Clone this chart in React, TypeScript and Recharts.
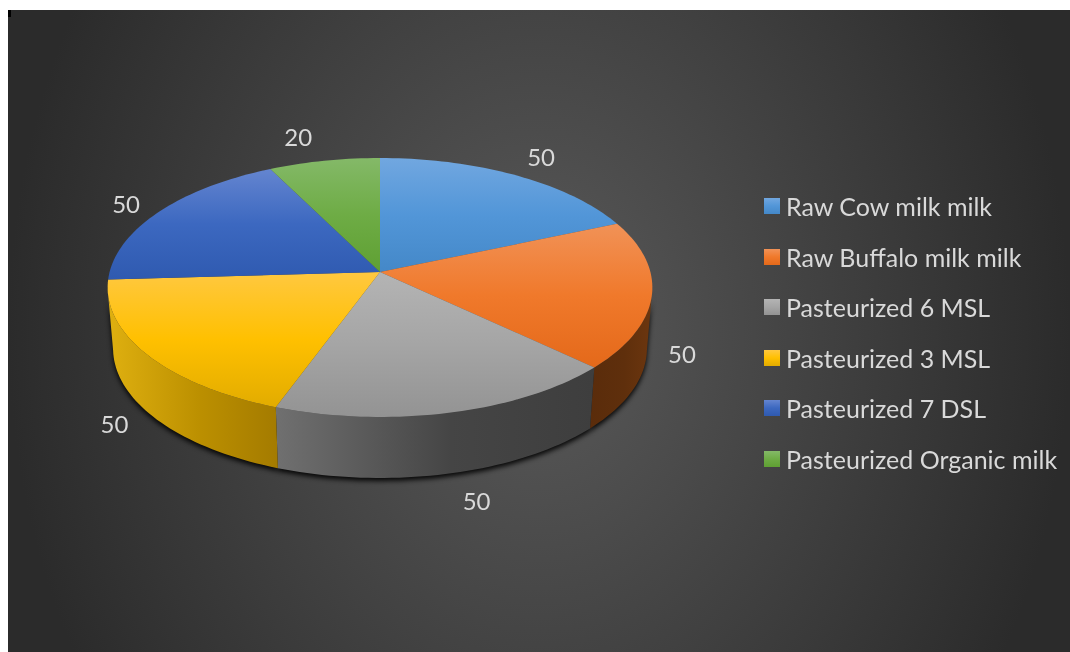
import React from 'react'
import { Legend, Pie, PieChart } from 'recharts'

const categories = [
  'Raw Cow milk milk',
  'Raw Buffalo milk milk',
  'Pasteurized 6 MSL',
  'Pasteurized 3 MSL',
  'Pasteurized 7 DSL',
  'Pasteurized Organic milk',
]
const values = [50, 50, 50, 50, 50, 20]

// light, base and dark stops of each slice's top face
const topColors = [
  ['#71a7e0', '#5296d8', '#4488c8'],
  ['#f19257', '#f0792b', '#e4691a'],
  ['#b4b4b4', '#a5a5a5', '#939393'],
  ['#ffc840', '#ffc000', '#e2ac00'],
  ['#6485d0', '#3c68c0', '#2f5ab0'],
  ['#84b968', '#6eac45', '#5fa033'],
]
// left to right stops of the outer wall
const wallColors = [
  ['#3a6a9c', '#2c5680', '#2c5680'],
  ['#5a2c0b', '#5f2f0c', '#6c360f'],
  ['#707070', '#454545', '#3e3e3e'],
  ['#dfb010', '#bb8f00', '#a47b00'],
  ['#2a4a88', '#2a4a88', '#2a4a88'],
  ['#4a7a2c', '#4a7a2c', '#4a7a2c'],
]
// where each value label sits relative to its slice's rim
const labelNudge = [
  [26, -19],
  [30, 59],
  [26, 88],
  [-32, 69],
  [-33, -8],
  [-26, -24],
]

const tableData = categories.map((name, i) => ({
  name,
  value: values[i],
  fill: `url(#top-${i})`,
}))

const WIDTH = 1062
const HEIGHT = 642
const CX = 372
const CY = 262
const RADIUS = 270.4
const TILT = 0.472
const PERSPECTIVE = 0.1197
const DEPTH = 61
const BOTTOM_SCALE = 0.98
const RAD = Math.PI / 180

// tilted disc: polar angle on the pie to a point on the page
function project(cx: number, cy: number, r: number, angle: number) {
  const u = Math.cos(angle * RAD)
  const v = -Math.sin(angle * RAD)
  const w = 1 - PERSPECTIVE * v
  return { x: cx + (r * u) / w, y: cy + (r * TILT * v) / w, v }
}

function rimPoints(props: any) {
  const { cx, cy, outerRadius, startAngle, endAngle } = props
  const steps = Math.max(2, Math.ceil(Math.abs(endAngle - startAngle) / 1.5))
  const points = []
  for (let i = 0; i <= steps; i++) {
    points.push(project(cx, cy, outerRadius, startAngle + ((endAngle - startAngle) * i) / steps))
  }
  return points
}

const toPath = (pts: { x: number; y: number }[]) =>
  pts.map((p, i) => `${i ? 'L' : 'M'}${p.x.toFixed(2)},${p.y.toFixed(2)}`).join(' ') + ' Z'

function wallPath(props: any) {
  // only the part of the rim that faces the viewer gets a wall
  const front = rimPoints(props).filter((p) => p.v >= PERSPECTIVE)
  if (front.length < 2) return null
  const lower = front
    .map((p) => ({ x: props.cx + (p.x - props.cx) * BOTTOM_SCALE, y: p.y + DEPTH }))
    .reverse()
  return toPath([...front, ...lower])
}

const TopFace = (props: any) => (
  <path d={toPath([{ x: props.cx, y: props.cy }, ...rimPoints(props)])} fill={props.fill} />
)

const WallFace = (props: any) => {
  const d = wallPath(props)
  return d ? <path d={d} fill={`url(#wall-${props.index})`} /> : null
}

const WallShadow = (props: any) => {
  const d = wallPath(props)
  return d ? (
    <path d={d} fill="#000" fillOpacity={0.9} transform="translate(0 3)" style={{ filter: 'blur(2.5px)' }} />
  ) : null
}

const valueLabel = (props: any) => {
  const { cx, cy, outerRadius, midAngle, index, value } = props
  const p = project(cx, cy, outerRadius, midAngle)
  return (
    <text
      x={p.x + labelNudge[index][0]}
      y={p.y + labelNudge[index][1]}
      fill="#d9d9d9"
      fontFamily="Lato"
      fontSize={24}
      textAnchor="middle"
      dominantBaseline="central"
    >
      {value}
    </text>
  )
}

const LegendList = () => (
  <div>
    {categories.map((name, i) => (
      <div key={name} style={{ display: 'flex', alignItems: 'center', height: 50.5 }}>
        <svg width={16} height={16} style={{ marginRight: 6 }}>
          <rect width={16} height={16} fill={`url(#top-${i})`} />
        </svg>
        <span style={{ color: '#d9d9d9', fontFamily: 'Lato', fontSize: 25, whiteSpace: 'nowrap' }}>{name}</span>
      </div>
    ))}
  </div>
)

export default function App() {
  const pieProps = {
    data: tableData,
    dataKey: 'value',
    nameKey: 'name',
    cx: CX,
    cy: CY,
    innerRadius: 0,
    outerRadius: RADIUS,
    startAngle: 90,
    endAngle: -270,
    stroke: 'none',
    isAnimationActive: false,
  }
  return (
    <div
      style={{
        position: 'fixed',
        left: 8,
        top: 10,
        width: WIDTH,
        height: HEIGHT,
        background: 'radial-gradient(ellipse 531px 670px at 50% 50%, #5a5a5a 0%, #2b2b2b 100%)',
      }}
    >
      <div style={{ position: 'absolute', left: 0, top: 0, width: 3, height: 7, background: '#000' }} />
      <PieChart width={WIDTH} height={HEIGHT} margin={{ top: 0, right: 0, bottom: 0, left: 0 }}>
        <defs>
          {topColors.map((stops, i) => (
            <linearGradient key={i} id={`top-${i}`} x1="0" y1="0" x2="0" y2="1">
              <stop offset="0%" stopColor={stops[0]} />
              <stop offset="50%" stopColor={stops[1]} />
              <stop offset="100%" stopColor={stops[2]} />
            </linearGradient>
          ))}
          {wallColors.map((stops, i) => (
            <linearGradient key={i} id={`wall-${i}`} x1="0" y1="0" x2="1" y2="0">
              <stop offset="0%" stopColor={stops[0]} />
              <stop offset="55%" stopColor={stops[1]} />
              <stop offset="100%" stopColor={stops[2]} />
            </linearGradient>
          ))}
        </defs>
        <Pie {...pieProps} legendType="none" shape={WallShadow} />
        <Pie {...pieProps} legendType="none" shape={WallFace} />
        <Pie {...pieProps} shape={TopFace} label={valueLabel} labelLine={false} />
        <Legend
          layout="vertical"
          align="right"
          verticalAlign="top"
          content={<LegendList />}
          wrapperStyle={{ left: 756, right: 'auto', top: 171, width: 300 }}
        />
      </PieChart>
    </div>
  )
}
